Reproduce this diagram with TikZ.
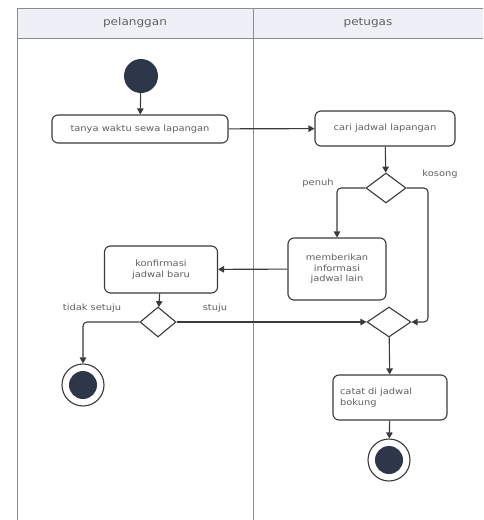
\documentclass[tikz,border=0pt]{standalone}
\usepackage{fontspec}
\setmainfont[FakeStretch=1.15]{DejaVu Sans}
\usetikzlibrary{arrows.meta,shapes.geometric,calc}

\definecolor{lanegrey}{HTML}{8A8D93}
\definecolor{headfill}{HTML}{EDF0F6}
\definecolor{inkline}{HTML}{3A3A3A}
\definecolor{txtgrey}{HTML}{606060}
\definecolor{dotfill}{HTML}{2E3749}

\begin{document}
\begin{tikzpicture}[x=1pt,y=-1pt,
  font=\fontsize{8.6}{10.5}\selectfont,
  action/.style={draw=inkline, line width=1.1pt, rounded corners=6pt, fill=white,
    text=txtgrey, align=center, inner sep=2pt},
  choice/.style={diamond, draw=inkline, line width=1.1pt, fill=white, inner sep=0pt},
  startdot/.style={circle, fill=dotfill, draw=none, minimum size=34pt, inner sep=0pt},
  enddot/.style={circle, draw=inkline, line width=1.1pt, fill=white, minimum size=42pt,
    inner sep=0pt, path picture={\fill[dotfill] (path picture bounding box.center) circle (14pt);}},
  flow/.style={draw=inkline, line width=1.1pt, rounded corners=4pt,
    -{Triangle[length=6pt,width=6.5pt]}},
  guard/.style={text=txtgrey, inner sep=1pt},
  lanetitle/.style={text=txtgrey, font=\fontsize{10.5}{12}\selectfont}
]
\useasboundingbox (0,0) rectangle (483,520);

% swimlane frame
\fill[headfill] (17,8) rectangle (483,38);
\draw[lanegrey, line width=1pt] (17,520) -- (17,8) -- (483,8);
\draw[lanegrey, line width=1pt] (17,38) -- (483,38);
\draw[lanegrey, line width=1pt] (253,8) -- (253,520);
\node[lanetitle] (lane1) at (135,23) {pelanggan};
\node[lanetitle] (lane2) at (368,23) {petugas};

% activity nodes
\node[startdot] (start) at (141,76) {};
\node[action, minimum width=176pt, minimum height=28pt] (tanya) at (140,129) {tanya waktu sewa lapangan};
\node[action, minimum width=140pt, minimum height=35pt] (cari) at (385,128.5) {cari jadwal lapangan};
\node[choice, minimum width=40pt, minimum height=30pt] (cek) at (386,188) {};
\node[action, minimum width=98pt, minimum height=62pt] (info) at (337,269) {memberikan\\informasi\\jadwal lain};
\node[action, minimum width=113pt, minimum height=47pt] (konf) at (161,269.5) {konfirmasi\\jadwal baru};
\node[choice, minimum width=36pt, minimum height=30pt] (setuju) at (158,322) {};
\node[choice, minimum width=44pt, minimum height=30pt] (gabung) at (389,322) {};
\node[action, minimum width=114pt, minimum height=45pt, align=left, text width=100pt] (catat) at (390,397.5) {catat di jadwal\\bokung};
\node[enddot] (end1) at (83,385) {};
\node[enddot] (end2) at (389,460) {};

\coordinate (kosongturn) at (428,322);

% connectors
\draw[flow] (start) -- (tanya);
\draw[flow] (tanya) -- (cari);
\draw[flow] (cari) -- (cek);
\draw[flow] (cek.west) -| (info.north);
\draw[flow] (cek.east) -| (kosongturn) -- (gabung.east);
\draw[flow] (info) -- (konf);
\draw[flow] (konf) -- (setuju);
\draw[flow] (setuju.west) -| (end1.north);
\draw[flow] (setuju.east) -- (gabung.west);
\draw[flow] (gabung) -- (catat);
\draw[flow] (catat) -- (end2);

% guard labels
\node[guard] (lpenuh) at (318,183) {penuh};
\node[guard] (lkosong) at (440,174) {kosong};
\node[guard] (ltidak) at (92,308) {tidak setuju};
\node[guard] (lstuju) at (215,308) {stuju};
\end{tikzpicture}
\end{document}
